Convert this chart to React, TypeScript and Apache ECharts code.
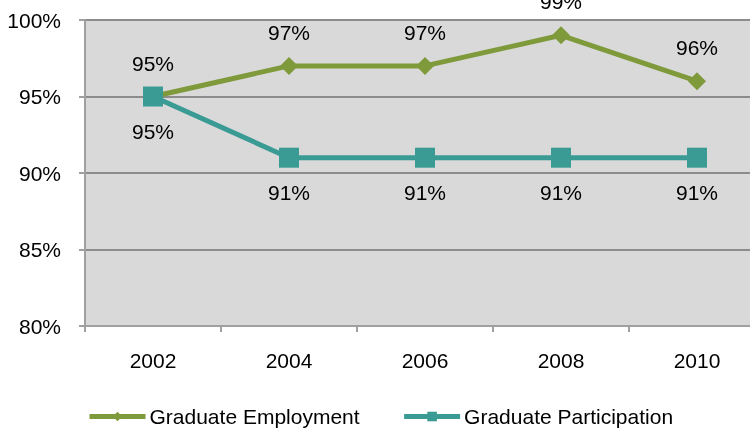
import React, { useEffect, useRef } from "react";
import * as echarts from "echarts";

const years = ["2002", "2004", "2006", "2008", "2010"];
const employment = [95, 97, 97, 99, 96];
const participation = [95, 91, 91, 91, 91];
const seriesNames = ["Graduate Employment", "Graduate Participation"];

const FONT = "'Liberation Sans', Arial, sans-serif";

export default function App() {
  const ref = useRef<HTMLDivElement>(null);
  useEffect(() => {
    if (!ref.current) return;
    const chart = echarts.init(ref.current, undefined, { renderer: "svg" });
    const labelStyle = { fontFamily: FONT, fontSize: 21, color: "#000" };
    chart.setOption({
      animation: false,
      textStyle: { fontFamily: FONT },
      grid: {
        left: 85,
        top: 20,
        width: 680,
        height: 306,
        show: true,
        backgroundColor: "#d9d9d9",
        borderWidth: 0,
        containLabel: false,
        outerBoundsMode: "none",
      },
      legend: {
        left: 87,
        top: 406,
        padding: 0,
        itemWidth: 56,
        itemHeight: 12,
        itemGap: 42,
        lineStyle: { width: 5 },
        textStyle: { ...labelStyle, padding: [0, 0, 0, -1] },
        data: seriesNames,
      },
      xAxis: {
        type: "category",
        data: years,
        boundaryGap: true,
        axisLine: { lineStyle: { color: "#a0a0a0", width: 2 } },
        axisTick: { show: true, length: 6, lineStyle: { color: "#a0a0a0", width: 2 } },
        axisLabel: { ...labelStyle, margin: 24 },
      },
      yAxis: {
        type: "value",
        min: 80,
        max: 100,
        interval: 5,
        axisLine: { show: true, lineStyle: { color: "#a0a0a0", width: 2 } },
        axisTick: { show: true, length: 6, lineStyle: { color: "#a0a0a0", width: 2 } },
        axisLabel: { ...labelStyle, margin: 24, formatter: "{value}%" },
        splitLine: { show: true, lineStyle: { color: "#8c8c8c", width: 2 } },
      },
      series: [
        {
          name: seriesNames[0],
          type: "line",
          data: employment,
          symbol: "diamond",
          symbolSize: 18,
          lineStyle: { color: "#7f9a3b", width: 5 },
          itemStyle: { color: "#7f9a3b" },
          label: {
            show: true,
            position: "top",
            distance: 14,
            formatter: "{c}%",
            ...labelStyle,
          },
          z: 3,
        },
        {
          name: seriesNames[1],
          type: "line",
          data: participation,
          symbol: "rect",
          symbolSize: 20,
          lineStyle: { color: "#3a9b94", width: 5 },
          itemStyle: { color: "#3a9b94" },
          label: {
            show: true,
            position: "bottom",
            distance: 14,
            formatter: "{c}%",
            ...labelStyle,
          },
          z: 4,
        },
      ],
    });
    return () => chart.dispose();
  }, []);
  return (
    <div
      ref={ref}
      style={{ position: "fixed", left: 0, top: 0, width: 750, height: 429 }}
    />
  );
}
